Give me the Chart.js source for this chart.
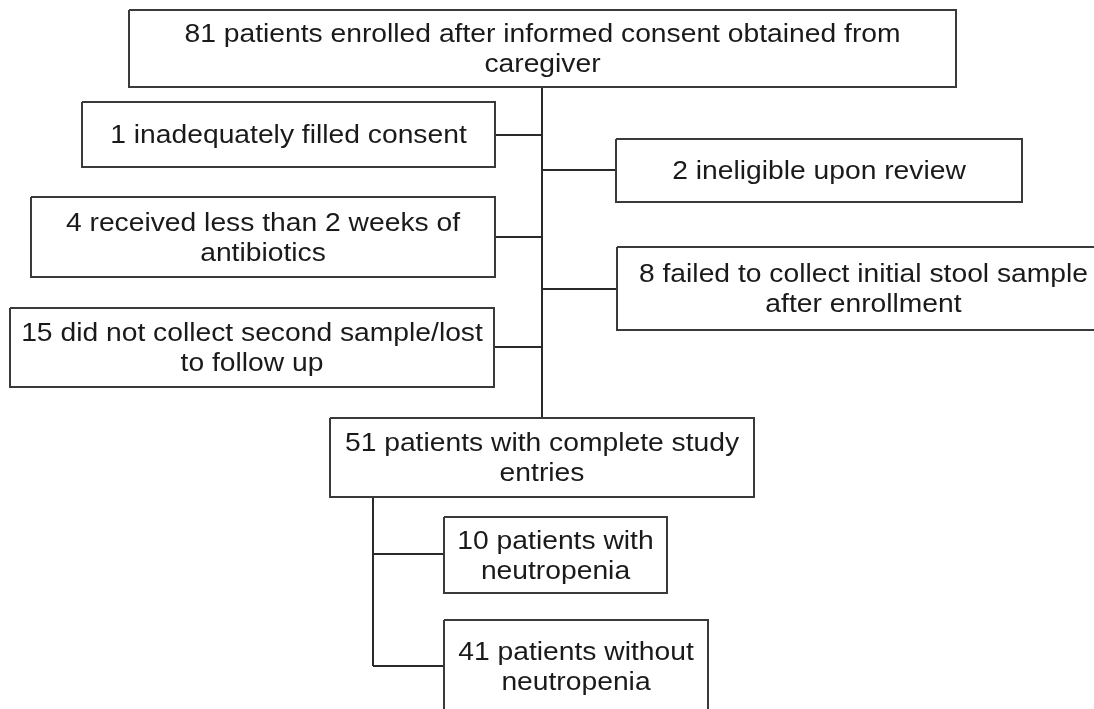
<!DOCTYPE html>
<html>
<head>
<meta charset="utf-8">
<script src="https://cdn.jsdelivr.net/npm/chart.js@4"></script>
<style>
  html, body { margin: 0; padding: 0; background: #fff; }
  #wrap { width: 1094px; height: 709px; position: relative; }
</style>
</head>
<body>
<div id="wrap"><canvas id="flowChart"></canvas></div>
<script>
// Flow diagram content
const boxLabels = [
    ['81 patients enrolled after informed consent obtained from', 'caregiver'],
    ['1 inadequately filled consent'],
    ['2 ineligible upon review'],
    ['4 received less than 2 weeks of', 'antibiotics'],
    ['8 failed to collect initial stool sample', 'after enrollment'],
    ['15 did not collect second sample/lost', 'to follow up'],
    ['51 patients with complete study', 'entries'],
    ['10 patients with', 'neutropenia'],
    ['41 patients without', 'neutropenia']
];
// box extents in diagram units: [left, top, right, bottom]
const boxRects = [
    [129, 10, 956, 87],
    [82, 102, 495, 167],
    [616, 139, 1022, 202],
    [31, 197, 495, 277],
    [617, 247, 1110, 330],
    [10, 308, 494, 387],
    [330, 418, 754, 497],
    [444, 517, 667, 593],
    [444, 620, 708, 712]
];
// connector segments: [x1, y1, x2, y2]
const connectors = [
    [542, 87, 542, 418],
    [495, 135, 542, 135],
    [542, 170, 616, 170],
    [495, 237, 542, 237],
    [542, 289, 617, 289],
    [494, 347, 542, 347],
    [373, 497, 373, 666],
    [373, 554, 444, 554],
    [373, 666, 444, 666]
];

document.addEventListener('DOMContentLoaded', function () {
    const datasets = [];

    boxRects.forEach(function (r) {
        datasets.push({
            data: [
                { x: r[0], y: r[1] }, { x: r[2], y: r[1] },
                { x: r[2], y: r[3] }, { x: r[0], y: r[3] },
                { x: r[0], y: r[1] }
            ],
            showLine: true,
            borderColor: '#3a3a3a',
            borderWidth: 2,
            pointRadius: 0,
            fill: false
        });
    });

    connectors.forEach(function (c) {
        datasets.push({
            data: [{ x: c[0], y: c[1] }, { x: c[2], y: c[3] }],
            showLine: true,
            borderColor: '#2a2a2a',
            borderWidth: 2,
            pointRadius: 0,
            fill: false
        });
    });

    // box text
    const boxText = {
        id: 'boxText',
        afterDatasetsDraw(chart) {
            const ctx = chart.ctx;
            const xs = chart.scales.x, ys = chart.scales.y;
            const lineH = 30;
            ctx.save();
            ctx.fillStyle = '#1a1a1a';
            ctx.font = '25px "Liberation Sans", Arial, sans-serif';
            ctx.textAlign = 'center';
            ctx.textBaseline = 'middle';
            boxLabels.forEach(function (lines, i) {
                const r = boxRects[i];
                const cx = xs.getPixelForValue((r[0] + r[2]) / 2);
                const cy = ys.getPixelForValue((r[1] + r[3]) / 2) + 2;
                const y0 = cy - (lines.length - 1) * lineH / 2;
                lines.forEach(function (t, j) {
                    ctx.save();
                    ctx.translate(cx, y0 + j * lineH);
                    ctx.scale(1.13, 1);
                    ctx.fillText(t, 0, 0);
                    ctx.restore();
                });
            });
            ctx.restore();
        }
    };

    new Chart(document.getElementById('flowChart'), {
        type: 'scatter',
        data: { datasets: datasets },
        options: {
            responsive: true,
            maintainAspectRatio: false,
            animation: false,
            layout: { padding: 0 },
            plugins: {
                legend: { display: false },
                tooltip: { enabled: false }
            },
            scales: {
                x: { type: 'linear', min: 0, max: 1094, display: false },
                y: { type: 'linear', min: 0, max: 709, reverse: true, display: false }
            }
        },
        plugins: [boxText]
    });
});
</script>
</body>
</html>
